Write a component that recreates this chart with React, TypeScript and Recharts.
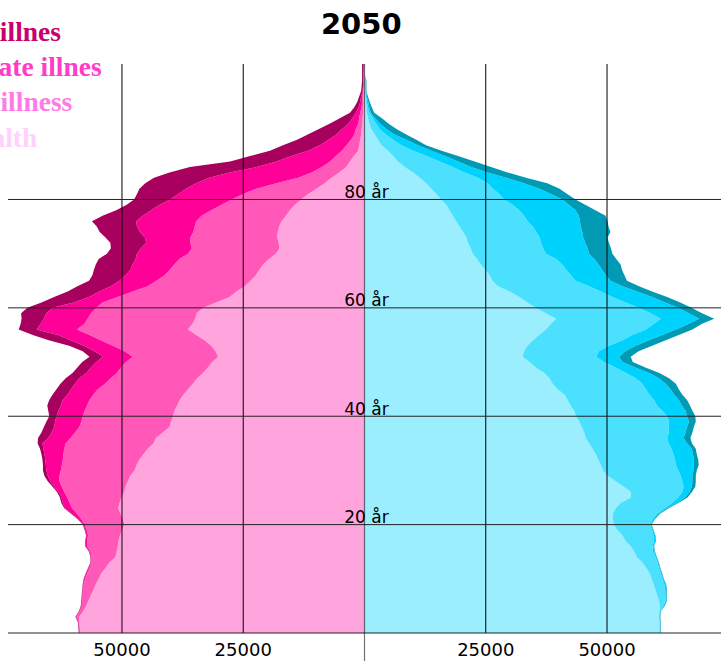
import React from 'react';
import { ComposedChart, Area, XAxis, YAxis, ReferenceLine } from 'recharts';

// Age categories 0..105
const AGES: number[] = Array.from({ length: 106 }, (_, i) => i);

// Women (persons per age), index = age
const WOMEN_HEALTHY = [
  58600, 58700, 58800, 58800, 58000, 57400, 56900, 56400, 55900, 55400,
  54800, 54300, 53400, 52600, 51400, 51100, 50900, 50700, 50400, 50000,
  49500, 49800, 50300, 50800, 50500, 50100, 49600, 49300, 48800, 48300,
  47400, 47000, 46400, 45600, 44700, 43500, 43000, 41600, 40200, 39900,
  39500, 39200, 38600, 38100, 37300, 36400, 35400, 34500, 33300, 32300,
  31400, 30200, 30700, 31600, 33000, 34700, 36400, 35500, 34900, 34600,
  33300, 30600, 27800, 26400, 24700, 23500, 22400, 21700, 20900, 19700,
  18300, 17500, 17700, 18000, 17900, 17600, 17100, 16200, 15400, 14400,
  13100, 11600, 9900, 8200, 6800, 5200, 3800, 3000, 2200, 1300,
  1100, 900, 700, 600, 400, 400, 300, 200, 200, 200,
  200, 100, 100, 100, 100, 100,
];
const WOMEN_MILD = [
  100, 100, 100, 600, 700, 900, 1300, 1700, 2100, 2500,
  2800, 2900, 3300, 3700, 4900, 5400, 6300, 6500, 6600, 7300,
  8200, 8600, 9000, 9500, 10300, 11200, 12300, 13100, 14100, 14600,
  15200, 15400, 15800, 16500, 17200, 18100, 17600, 18100, 18600, 18500,
  18600, 18500, 18600, 18600, 18600, 18600, 18100, 17800, 17800, 17900,
  17800, 17600, 18800, 20300, 21400, 22000, 22900, 22300, 22200, 21800,
  22000, 23400, 23100, 21400, 20000, 19400, 18800, 18500, 18300, 18500,
  18100, 18100, 18200, 17900, 17400, 17400, 17600, 17400, 16200, 15200,
  14300, 13400, 12400, 10000, 6900, 5700, 5000, 4100, 3700, 3400,
  2600, 1900, 1400, 1200, 900, 700, 600, 400, 300, 200,
  100, 100, 100, 100, 0, 0,
];
const WOMEN_MODERATE = [
  100, 100, 100, 100, 100, 100, 100, 100, 100, 100,
  200, 200, 200, 100, 100, 200, 300, 300, 300, 300,
  300, 500, 1000, 1400, 1400, 1200, 1200, 1600, 1900, 2400,
  3000, 3300, 3600, 3900, 4300, 4800, 4600, 4800, 5200, 5400,
  5400, 5400, 5400, 5500, 5300, 5500, 6200, 6500, 6200, 6200,
  6100, 6100, 6200, 5900, 6200, 6500, 8300, 9000, 9000, 9200,
  9000, 5900, 5900, 6900, 7600, 7600, 8100, 8100, 8600, 9000,
  10500, 10500, 9100, 9400, 11000, 11900, 12400, 12100, 12400, 12700,
  12700, 13400, 14500, 16500, 18300, 16900, 13400, 11000, 9200, 6900,
  5500, 4600, 3700, 2800, 2000, 1400, 900, 600, 400, 300,
  100, 100, 100, 100, 100, 100,
];
const WOMEN_SEVERE = [
  100, 100, 100, 100, 100, 100, 100, 100, 100, 100,
  100, 100, 100, 100, 100, 100, 100, 100, 100, 100,
  100, 200, 200, 200, 300, 300, 300, 300, 500, 700,
  700, 600, 600, 600, 700, 1000, 2100, 2100, 2100, 1800,
  1500, 2100, 2800, 2800, 3100, 3000, 3000, 2800, 2900, 2800,
  2900, 2800, 2400, 3100, 4500, 5200, 3700, 4100, 4600, 5200,
  5200, 6700, 7200, 6500, 6900, 6300, 6800, 7500, 7600, 7600,
  6200, 6200, 7400, 8100, 8300, 8300, 9100, 8300, 7200, 6800,
  7400, 8500, 9600, 10500, 11400, 12400, 13800, 9600, 8500, 7900,
  7600, 6500, 5900, 4800, 3800, 2600, 1200, 900, 600, 400,
  300, 300, 200, 200, 300, 300,
];

// Men (persons per age), index = age
const MEN_HEALTHY = [
  60800, 60800, 60800, 60700, 60800, 60900, 60700, 60300, 60000, 59600,
  59200, 58800, 58100, 57300, 56200, 55600, 54900, 53800, 53200, 52100,
  51400, 51200, 51200, 51800, 52800, 54900, 54900, 53500, 51800, 50100,
  49200, 48700, 48200, 47700, 47000, 46300, 45600, 45300, 44800, 44300,
  43600, 43200, 42500, 41900, 41200, 39800, 38800, 38100, 37100, 35300,
  34000, 32600, 32900, 33600, 34700, 36000, 37400, 38400, 39500, 37400,
  35300, 33600, 31900, 29900, 27500, 26400, 25800, 24900, 24000, 23200,
  22300, 21900, 21300, 21000, 20300, 19600, 18900, 18200, 17500, 16900,
  15800, 14800, 13800, 12700, 11400, 10000, 8300, 6900, 5900, 4900,
  3500, 2800, 2100, 1400, 1000, 700, 500, 400, 300, 200,
  100, 100, 100, 0, 0, 0,
];
const MEN_MILD = [
  100, 100, 100, 100, 100, 700, 1400, 1700, 2000, 2200,
  2200, 2300, 2600, 3100, 3800, 3900, 4500, 5900, 6400, 7200,
  7500, 8200, 9100, 10100, 10600, 9800, 10600, 12300, 13700, 15100,
  15500, 15500, 15800, 16000, 16300, 16400, 16800, 17500, 17900, 18500,
  18800, 18200, 17800, 17800, 17500, 18200, 18500, 17800, 16800, 16400,
  15400, 15200, 15400, 16800, 18500, 19200, 20600, 21200, 21600, 21600,
  21200, 20200, 19200, 18800, 18800, 17100, 16800, 16700, 16800, 16300,
  15100, 14900, 15100, 15100, 15100, 15100, 14700, 14700, 14400, 13700,
  13000, 13000, 12700, 12700, 12000, 10600, 9900, 8600, 6900, 5100,
  4100, 3100, 2300, 1700, 1400, 1000, 500, 300, 200, 100,
  100, 100, 100, 0, 0, 0,
];
const MEN_MODERATE = [
  100, 100, 100, 100, 100, 200, 200, 200, 300, 300,
  200, 200, 200, 200, 200, 300, 200, 300, 300, 200,
  200, 400, 300, 500, 1000, 1400, 1500, 1700, 2100, 2400,
  3100, 3700, 3900, 4000, 4200, 3800, 3400, 3400, 3800, 4100,
  4100, 4800, 5100, 5100, 5100, 5100, 4800, 4800, 4800, 4100,
  3800, 4700, 5500, 5500, 5500, 6200, 6200, 7200, 7900, 7900,
  8200, 8200, 8200, 7500, 6900, 7200, 7200, 7400, 7500, 7900,
  8900, 9200, 9100, 9000, 9500, 9900, 10800, 11300, 11600, 11600,
  12000, 10600, 9600, 7500, 5800, 4800, 3800, 3800, 3800, 3800,
  3400, 2700, 1800, 1400, 800, 500, 300, 300, 300, 200,
  100, 100, 100, 0, 0, 0,
];
const MEN_SEVERE = [
  100, 100, 100, 100, 100, 100, 100, 100, 100, 100,
  100, 100, 100, 100, 100, 100, 100, 100, 100, 100,
  100, 100, 300, 300, 300, 500, 500, 700, 700, 700,
  700, 1000, 900, 800, 800, 1000, 1400, 1400, 1400, 1400,
  1700, 1400, 1700, 1700, 1700, 1700, 2100, 2100, 2100, 2100,
  2100, 2400, 2700, 3400, 3400, 3400, 3400, 2700, 3100, 2700,
  2700, 3100, 3100, 3100, 3400, 3400, 3800, 4100, 4500, 4500,
  4800, 4800, 4900, 5000, 5800, 5700, 5700, 5500, 4100, 3400,
  2700, 3400, 4100, 4800, 4100, 4100, 4100, 3400, 2700, 2100,
  1700, 2100, 2400, 2100, 1700, 1400, 700, 500, 300, 200,
  100, 100, 100, 0, 0, 0,
];

const X_TICKS = [-50000, -25000, 25000, 50000];
const V_GRID = [-50000, -25000, 25000, 50000];
const H_GRID = [0, 20, 40, 60, 80];
const AGE_LABELS = [20, 40, 60, 80];

const LEGEND_ITEMS = ['Severe illnes', 'Moderate illnes', 'Minor illness', 'Full health'];

const WOMEN_COLORS = { healthy: '#ffa4dc', mild: '#ff58b9', moderate: '#ff0099', severe: '#a8005f' };
const MEN_COLORS = { healthy: '#9aeefd', mild: '#4ce0ff', moderate: '#00d2fe', severe: '#009ab5' };
const LEGEND_COLORS = ['#c8006a', '#ff3dc7', '#ff7ae6', '#ffd2fa'];
const LEGEND_END_X = [61, 101.7, 72.3, 37.3];

const rows = AGES.map((age, i) => ({
  age,
  wHealthy: -WOMEN_HEALTHY[i],
  wMild: -WOMEN_MILD[i],
  wModerate: -WOMEN_MODERATE[i],
  wSevere: -WOMEN_SEVERE[i],
  mHealthy: MEN_HEALTHY[i],
  mMild: MEN_MILD[i],
  mModerate: MEN_MODERATE[i],
  mSevere: MEN_SEVERE[i],
}));

const AgeLabel = (props: any) => {
  const vb = props.viewBox || {};
  const cx = (vb.x || 0) + (vb.width || 0) / 2 + 2;
  const y = (vb.y || 0) - 1.5;
  return (
    <text x={cx} y={y} textAnchor="middle" fontFamily="DejaVu Sans" fontSize={17} fill="#000">
      {props.text}
    </text>
  );
};

export default function App() {
  const areaCommon = { type: 'linear' as const, stroke: 'none', fillOpacity: 1, isAnimationActive: false, dot: false, activeDot: false };
  return (
    <div style={{ position: 'absolute', left: 0, top: 0, width: 721, height: 661, overflow: 'hidden', background: '#fff' }}>
      <ComposedChart
        width={721}
        height={661}
        data={rows}
        layout="vertical"
        margin={{ top: 64, right: 0, bottom: 0, left: 8 }}
      >
        <XAxis
          type="number"
          domain={[-73500, 73500]}
          allowDataOverflow
          ticks={X_TICKS}
          interval={0}
          tickFormatter={(v: number) => String(Math.abs(v))}
          axisLine={false}
          tickLine={false}
          tickSize={8}
          tickMargin={2}
          height={28}
          tick={{ fill: '#000', fontSize: 18, fontFamily: 'DejaVu Sans' }}
        />
        <YAxis type="number" dataKey="age" domain={[0, 105]} reversed hide />

        <Area {...areaCommon} dataKey="wHealthy" stackId="w" fill={WOMEN_COLORS.healthy} />
        <Area {...areaCommon} dataKey="wMild" stackId="w" fill={WOMEN_COLORS.mild} />
        <Area {...areaCommon} dataKey="wModerate" stackId="w" fill={WOMEN_COLORS.moderate} />
        <Area {...areaCommon} dataKey="wSevere" stackId="w" fill={WOMEN_COLORS.severe} />

        <Area {...areaCommon} dataKey="mHealthy" stackId="m" fill={MEN_COLORS.healthy} />
        <Area {...areaCommon} dataKey="mMild" stackId="m" fill={MEN_COLORS.mild} />
        <Area {...areaCommon} dataKey="mModerate" stackId="m" fill={MEN_COLORS.moderate} />
        <Area {...areaCommon} dataKey="mSevere" stackId="m" fill={MEN_COLORS.severe} />

        {V_GRID.map((v) => (
          <ReferenceLine key={'v' + v} x={v} stroke="#000" strokeWidth={1} />
        ))}
        {H_GRID.map((a) => (
          <ReferenceLine key={'h' + a} y={a} stroke="#222" strokeWidth={1} />
        ))}
        <ReferenceLine
          segment={[{ x: 0, y: -5.5 }, { x: 0, y: 105 }]}
          ifOverflow="visible"
          stroke="#000"
          strokeOpacity={0.55}
          strokeWidth={1.2}
        />
        {AGE_LABELS.map((a) => (
          <ReferenceLine
            key={'l' + a}
            y={a}
            stroke="none"
            label={<AgeLabel text={`${a} år`} />}
          />
        ))}
      </ComposedChart>
      <svg
        width={721}
        height={661}
        style={{ position: 'absolute', left: 0, top: 0, pointerEvents: 'none' }}
      >
        <text x={361.3} y={34.3} textAnchor="middle" fontFamily="DejaVu Sans" fontWeight="bold" fontSize={29} fill="#000">
          2050
        </text>
        {LEGEND_ITEMS.map((t, i) => (
          <text
            key={t}
            x={LEGEND_END_X[i]}
            y={40.7 + i * 35.3}
            textAnchor="end"
            fontFamily="Liberation Serif"
            fontWeight="bold"
            fontSize={27.5}
            fill={LEGEND_COLORS[i]}
          >
            {t}
          </text>
        ))}
      </svg>
    </div>
  );
}
